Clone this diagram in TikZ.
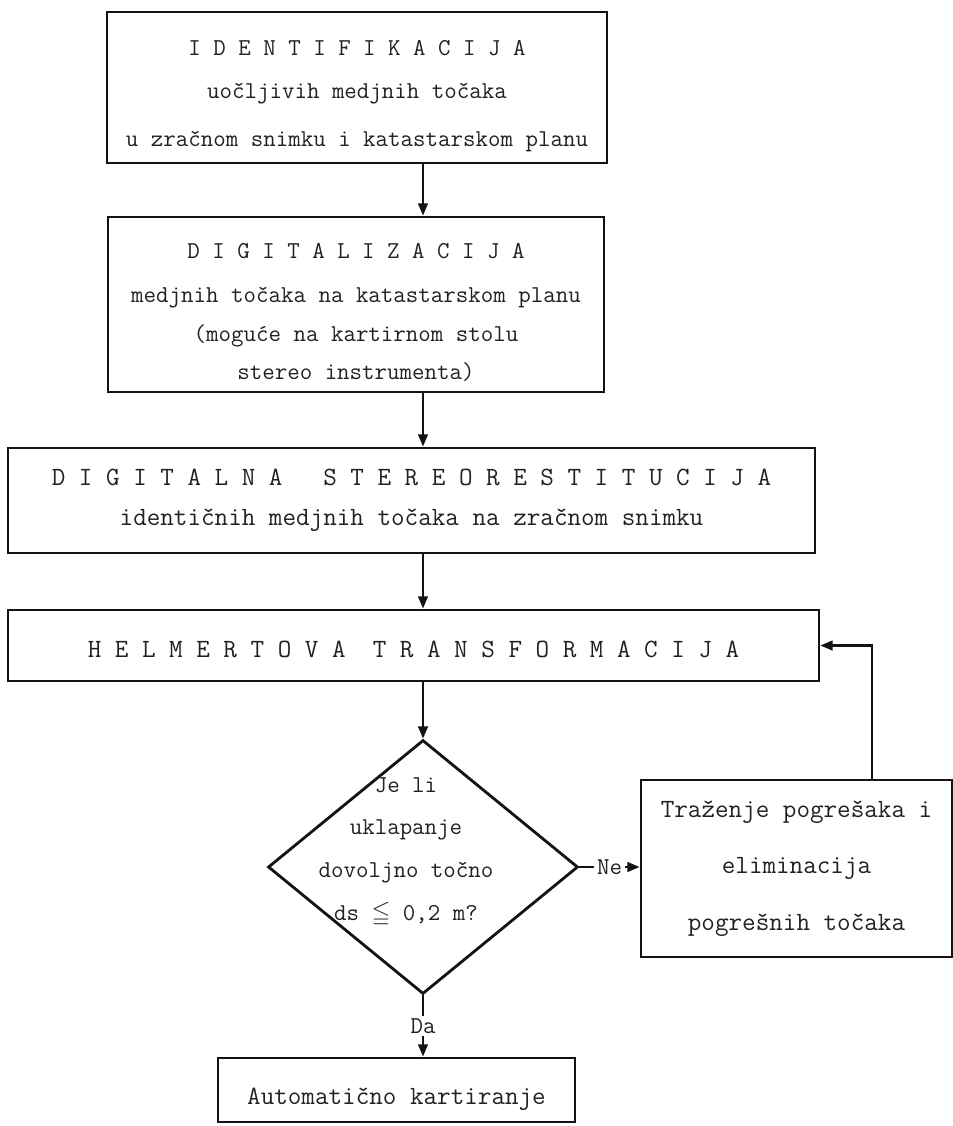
\documentclass[tikz,border=0pt]{standalone}
\usepackage{amssymb}
\usepackage{fontspec}
\usepackage{tikz}
\usetikzlibrary{
    arrows.meta,
    positioning,
    shapes.geometric
}
\newcommand{\typerfont}{\fontsize{13.8}{22}\ttfamily}
\newcommand{\typerlarge}{\fontsize{15}{22}\ttfamily}
\definecolor{ink}{RGB}{20,18,18}
\definecolor{typeink}{RGB}{35,32,32}
\tikzset{
  box/.style     = {draw=ink, line width=1.6pt, inner sep=0pt,
                    align=center, font=\typerfont, text=typeink},
  decision/.style= {draw=ink, diamond, line width=1.6pt, inner sep=0pt,
                    minimum width=6.2cm, minimum height=5.08cm},
  txt/.style     = {align=center, font=\typerfont, text=typeink},
  arr/.style     = {-{Triangle[length=7pt,width=5.5pt]}, line width=1.3pt, ink},
  lbl/.style     = {font=\typerfont, text=typeink, fill=white, inner sep=1.5pt}
}

\begin{document}
\begin{tikzpicture}[x=0.02cm, y=-0.02cm]

\useasboundingbox (0,0) rectangle (953,1126);

%% Main chain (top to bottom)
\node[box, minimum width=10cm, minimum height=3.02cm] (ident) at (357,87.5)
  {\rule{0pt}{0.66cm}I D E N T I F I K A C I J A\\[0.08cm]
   uočljivih medjnih točaka\\[0.2cm]
   u zračnom snimku i katastarskom planu};
\node[box, minimum width=9.92cm, minimum height=3.5cm] (digit) at (356,304.5)
  {\rule{0pt}{0.62cm}D I G I T A L I Z A C I J A\\[0.12cm]
   medjnih točaka na katastarskom planu\\
   (moguće na kartirnom stolu\\
   stereo instrumenta)};
\node[box, font=\typerlarge, minimum width=16.14cm, minimum height=2.1cm]
  (stereo) at (411.5,500.5)
  {D I G I T A L N A~~~S T E R E O R E S T I T U C I J A\\[0.02cm]
   identičnih medjnih točaka na zračnom snimku};
\node[box, font=\typerlarge, minimum width=16.22cm, minimum height=1.42cm]
  (helmert) at (413.5,645.5)
  {\rule{0pt}{0.5cm}H E L M E R T O V A~~T R A N S F O R M A C I J A};

%% Decision
\node[decision] (check) at (423,867) {};
\node[txt] (checktxt) at (406,852)
  {Je li\\[0.08cm] uklapanje\\[0.08cm] dovoljno točno\\[0.08cm] ds $\leqq$ 0,2 m?};

%% Error loop and result
\node[box, font=\typerlarge, minimum width=6.22cm, minimum height=3.54cm]
  (fix) at (796.5,868.5)
  {Traženje pogrešaka i\\[0.36cm] eliminacija\\[0.36cm] pogrešnih točaka};
\node[box, font=\typerlarge, minimum width=7.14cm, minimum height=1.28cm]
  (auto) at (396.5,1090)
  {\rule{0pt}{0.69cm}Automatično kartiranje};

%% Flow arrows
\draw[arr] (ident.south -| check.north) -- (digit.north -| check.north);
\draw[arr] (digit.south -| check.north) -- (stereo.north -| check.north);
\draw[arr] (stereo.south -| check.north) -- (helmert.north -| check.north);
\draw[arr] (helmert.south -| check.north) -- (check.north);

%% Branches
\draw[arr] (check.east) -- node[lbl] {Ne} (fix.west |- check.east);
\draw[arr] (check.south) -- node[lbl] {Da} (check.south |- auto.north);

%% Back to transformation
\coordinate (up) at (872,780);
\draw[arr] (up) |- (helmert.east);

\end{tikzpicture}
\end{document}
